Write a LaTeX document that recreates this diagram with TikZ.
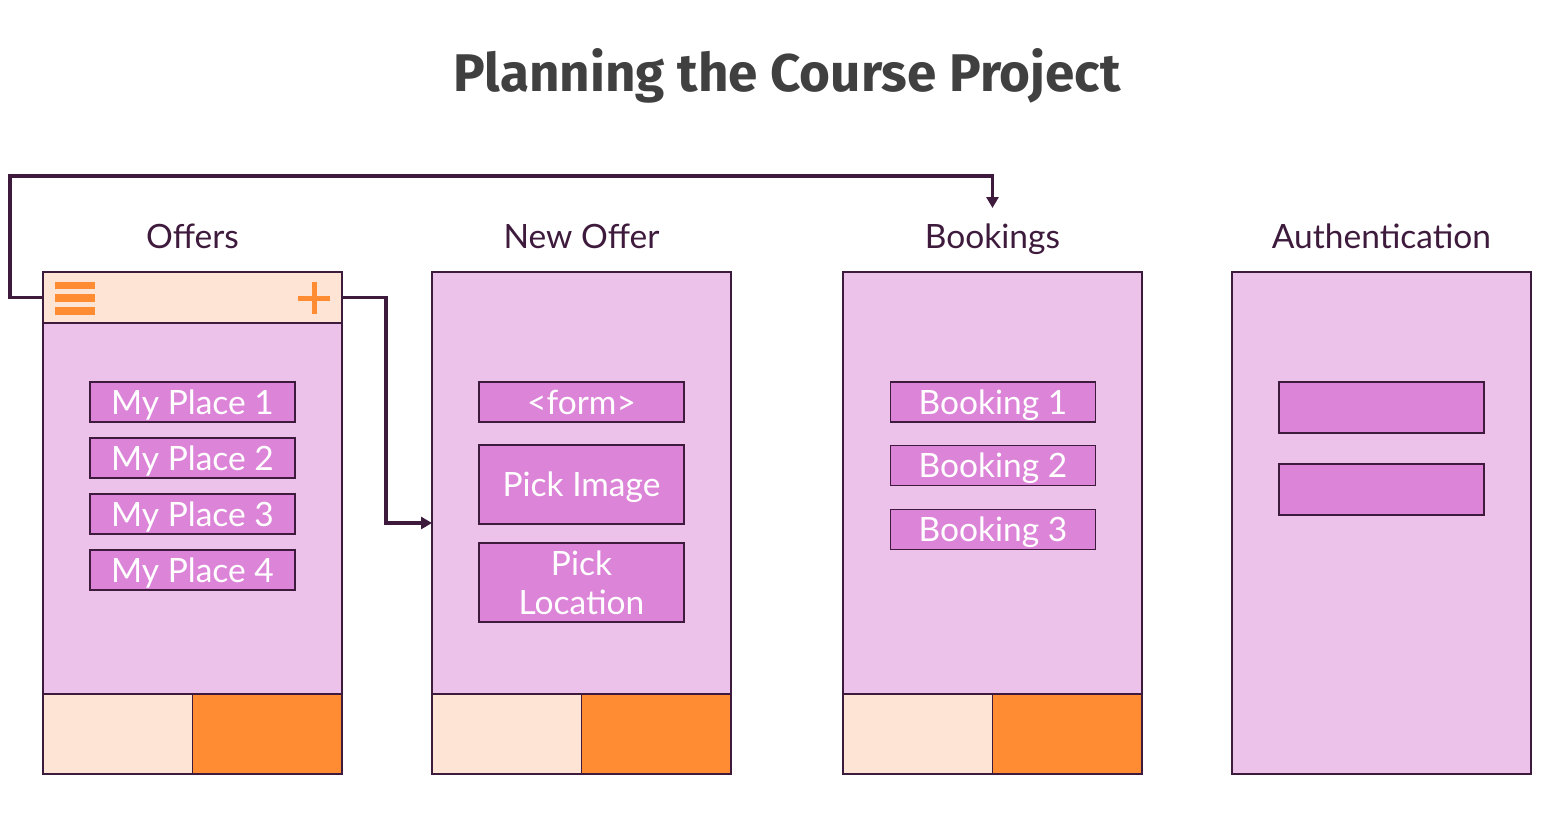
\documentclass[tikz,border=0pt]{standalone}
\usepackage{fontspec}
\setmainfont{Lato}
\newfontfamily\titlefont{Fira Sans}
\usetikzlibrary{arrows.meta}
\definecolor{ink}{HTML}{3E1A3C}
\definecolor{pinkbg}{HTML}{ECC2EA}
\definecolor{boxpink}{HTML}{DC84D8}
\definecolor{peach}{HTML}{FDE4D4}
\definecolor{orng}{HTML}{FF8C33}
\definecolor{titlegray}{HTML}{404040}
\begin{document}
\begin{tikzpicture}[x=1pt,y=-1pt,
  phone/.style={draw=ink,line width=1.8pt,fill=pinkbg,minimum width=299pt,minimum height=502pt,inner sep=0pt,outer sep=0pt},
  header/.style={draw=ink,line width=1.8pt,fill=peach,minimum width=299pt,minimum height=51pt,inner sep=0pt,outer sep=0pt},
  lightbar/.style={draw=ink,line width=1.8pt,fill=peach},
  darkbar/.style={draw=ink,line width=1.8pt,fill=orng},
  item/.style={draw=ink,line width=1.8pt,fill=boxpink,text=white,minimum width=205pt,minimum height=40pt,inner sep=0pt,font=\fontsize{33.5}{39}\selectfont,align=center,text height=30pt,text depth=6pt},
  tall/.style={item,minimum height=79pt},
  screenlabel/.style={text=ink,font=\fontsize{33.5}{36}\selectfont,inner sep=0pt,text height=30pt,text depth=6pt},
  conn/.style={draw=ink,line width=3.5pt,-{Triangle[length=11pt,width=12pt]}},
  icon/.style={fill=orng,draw=none}
]
\useasboundingbox (0,0) rectangle (1559,839);

\node[text=titlegray,font=\titlefont\bfseries\fontsize{53}{60}\selectfont] (title) at (787,76) {Planning the Course Project};

% labels
\node[screenlabel] (l1) at (192.5,236) {Offers};
\node[screenlabel] (l2) at (581.5,236) {New Offer};
\node[screenlabel] (l3) at (992.5,236) {Bookings};
\node[screenlabel] (l4) at (1381.5,236) {Authentication};

% phones
\node[phone] (p1) at (192.5,523) {};
\node[phone] (p2) at (581.5,523) {};
\node[phone] (p3) at (992.5,523) {};
\node[phone] (p4) at (1381.5,523) {};

% header of phone 1
\node[header] (h1) at (192.5,297.5) {};
\fill[icon] (55,282) rectangle (95,289);
\fill[icon] (55,294) rectangle (95,302);
\fill[icon] (55,307) rectangle (95,315);
\fill[icon] (311.5,282) rectangle (316.5,314);
\fill[icon] (298,295.5) rectangle (330,300.5);

% bottom bars
\foreach \L in {43,432,843}{
  \draw[lightbar] (\L,694) rectangle (\L+149.5,774);
  \draw[darkbar] (\L+149.5,694) rectangle (\L+299,774);
}

% phone 1 items
\node[item] (a1) at (192.5,402) {My Place 1};
\node[item] (a2) at (192.5,458) {My Place 2};
\node[item] (a3) at (192.5,514) {My Place 3};
\node[item] (a4) at (192.5,570) {My Place 4};

% phone 2 items
\node[item] (b1) at (581.5,402) {<form>};
\node[tall] (b2) at (581.5,484.5) {Pick Image};
\node[tall,text height=69pt] (b3) at (581.5,582.5) {Pick\\Location};

% phone 3 items
\node[item] (c1) at (993,402) {Booking 1};
\node[item] (c2) at (993,465.5) {Booking 2};
\node[item] (c3) at (993,529.5) {Booking 3};

% phone 4 items
\node[item,minimum height=51pt] (d1) at (1381.5,407.5) {};
\node[item,minimum height=51pt] (d2) at (1381.5,489.5) {};

% connectors
\coordinate (k1) at (10,176);
\coordinate (t3) at (992.5,208);
\coordinate (k2) at (386,400);
\draw[conn] (h1.west) -| (k1) -| (t3);
\draw[conn] (h1.east) -| (k2) |- (p2.west);
\end{tikzpicture}
\end{document}
